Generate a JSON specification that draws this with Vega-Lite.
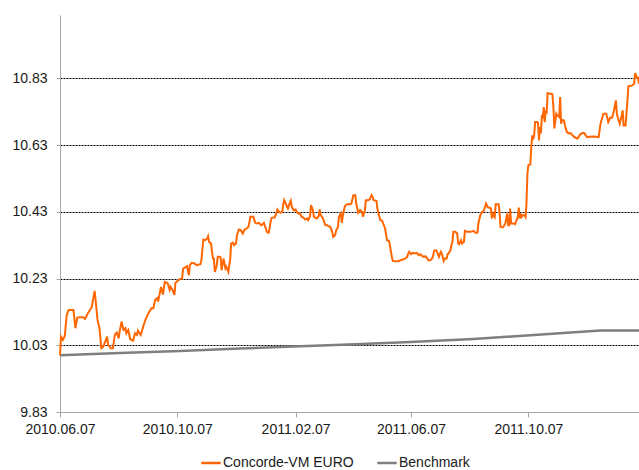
{
  "$schema": "https://vega.github.io/schema/vega-lite/v6.json",
  "width": 579,
  "height": 397,
  "autosize": {"type": "none"},
  "padding": {"left": 60, "top": 15, "right": 0, "bottom": 58},
  "config": {"view": {"stroke": null}, "font": "Liberation Sans"},
  "datasets": {
    "bench": [
      {"d": "2010-06-07", "v": 10.000},
      {"d": "2010-08-08", "v": 10.007},
      {"d": "2010-10-10", "v": 10.013},
      {"d": "2010-12-11", "v": 10.020},
      {"d": "2011-02-12", "v": 10.027},
      {"d": "2011-04-10", "v": 10.033},
      {"d": "2011-06-06", "v": 10.040},
      {"d": "2011-08-11", "v": 10.049},
      {"d": "2011-10-09", "v": 10.060},
      {"d": "2011-11-20", "v": 10.068},
      {"d": "2011-12-21", "v": 10.074},
      {"d": "2012-01-30", "v": 10.074}
    ],
    "fund": [
      {"d": "2010-06-07", "v": 10.000},
      {"d": "2010-06-08", "v": 10.056},
      {"d": "2010-06-10", "v": 10.046},
      {"d": "2010-06-12", "v": 10.058},
      {"d": "2010-06-14", "v": 10.121},
      {"d": "2010-06-16", "v": 10.136},
      {"d": "2010-06-21", "v": 10.136},
      {"d": "2010-06-23", "v": 10.081},
      {"d": "2010-06-25", "v": 10.113},
      {"d": "2010-06-28", "v": 10.114},
      {"d": "2010-07-01", "v": 10.114},
      {"d": "2010-07-03", "v": 10.109},
      {"d": "2010-07-06", "v": 10.126},
      {"d": "2010-07-10", "v": 10.144},
      {"d": "2010-07-13", "v": 10.193},
      {"d": "2010-07-14", "v": 10.166},
      {"d": "2010-07-16", "v": 10.106},
      {"d": "2010-07-18", "v": 10.082},
      {"d": "2010-07-20", "v": 10.021},
      {"d": "2010-07-22", "v": 10.026},
      {"d": "2010-07-26", "v": 10.056},
      {"d": "2010-07-27", "v": 10.031},
      {"d": "2010-07-30", "v": 10.021},
      {"d": "2010-08-01", "v": 10.021},
      {"d": "2010-08-03", "v": 10.061},
      {"d": "2010-08-05", "v": 10.068},
      {"d": "2010-08-07", "v": 10.051},
      {"d": "2010-08-08", "v": 10.071},
      {"d": "2010-08-10", "v": 10.101},
      {"d": "2010-08-12", "v": 10.076},
      {"d": "2010-08-14", "v": 10.081},
      {"d": "2010-08-15", "v": 10.066},
      {"d": "2010-08-17", "v": 10.076},
      {"d": "2010-08-19", "v": 10.048},
      {"d": "2010-08-22", "v": 10.044},
      {"d": "2010-08-24", "v": 10.066},
      {"d": "2010-08-26", "v": 10.061},
      {"d": "2010-08-27", "v": 10.074},
      {"d": "2010-08-30", "v": 10.061},
      {"d": "2010-09-02", "v": 10.091},
      {"d": "2010-09-04", "v": 10.108},
      {"d": "2010-09-07", "v": 10.126},
      {"d": "2010-09-10", "v": 10.141},
      {"d": "2010-09-12", "v": 10.141},
      {"d": "2010-09-14", "v": 10.166},
      {"d": "2010-09-16", "v": 10.171},
      {"d": "2010-09-17", "v": 10.161},
      {"d": "2010-09-20", "v": 10.205},
      {"d": "2010-09-22", "v": 10.182},
      {"d": "2010-09-24", "v": 10.220},
      {"d": "2010-09-27", "v": 10.216},
      {"d": "2010-09-29", "v": 10.196},
      {"d": "2010-09-30", "v": 10.205},
      {"d": "2010-10-02", "v": 10.196},
      {"d": "2010-10-04", "v": 10.181},
      {"d": "2010-10-05", "v": 10.216},
      {"d": "2010-10-06", "v": 10.220},
      {"d": "2010-10-08", "v": 10.225},
      {"d": "2010-10-10", "v": 10.228},
      {"d": "2010-10-12", "v": 10.231},
      {"d": "2010-10-13", "v": 10.260},
      {"d": "2010-10-15", "v": 10.263},
      {"d": "2010-10-17", "v": 10.267},
      {"d": "2010-10-19", "v": 10.240},
      {"d": "2010-10-20", "v": 10.270},
      {"d": "2010-10-22", "v": 10.277},
      {"d": "2010-10-25", "v": 10.275},
      {"d": "2010-10-27", "v": 10.270},
      {"d": "2010-10-31", "v": 10.273},
      {"d": "2010-11-01", "v": 10.285},
      {"d": "2010-11-03", "v": 10.347},
      {"d": "2010-11-05", "v": 10.345},
      {"d": "2010-11-07", "v": 10.350},
      {"d": "2010-11-08", "v": 10.357},
      {"d": "2010-11-09", "v": 10.340},
      {"d": "2010-11-11", "v": 10.335},
      {"d": "2010-11-13", "v": 10.290},
      {"d": "2010-11-14", "v": 10.290},
      {"d": "2010-11-15", "v": 10.250},
      {"d": "2010-11-17", "v": 10.270},
      {"d": "2010-11-18", "v": 10.295},
      {"d": "2010-11-20", "v": 10.295},
      {"d": "2010-11-21", "v": 10.293},
      {"d": "2010-11-22", "v": 10.255},
      {"d": "2010-11-24", "v": 10.290},
      {"d": "2010-11-26", "v": 10.260},
      {"d": "2010-11-27", "v": 10.265},
      {"d": "2010-11-29", "v": 10.250},
      {"d": "2010-12-01", "v": 10.290},
      {"d": "2010-12-02", "v": 10.335},
      {"d": "2010-12-04", "v": 10.337},
      {"d": "2010-12-05", "v": 10.330},
      {"d": "2010-12-07", "v": 10.335},
      {"d": "2010-12-08", "v": 10.360},
      {"d": "2010-12-10", "v": 10.377},
      {"d": "2010-12-12", "v": 10.375},
      {"d": "2010-12-14", "v": 10.365},
      {"d": "2010-12-16", "v": 10.377},
      {"d": "2010-12-18", "v": 10.380},
      {"d": "2010-12-20", "v": 10.385},
      {"d": "2010-12-22", "v": 10.415},
      {"d": "2010-12-25", "v": 10.415},
      {"d": "2010-12-27", "v": 10.397},
      {"d": "2010-12-29", "v": 10.395},
      {"d": "2010-12-31", "v": 10.397},
      {"d": "2011-01-02", "v": 10.390},
      {"d": "2011-01-04", "v": 10.393},
      {"d": "2011-01-05", "v": 10.397},
      {"d": "2011-01-07", "v": 10.380},
      {"d": "2011-01-08", "v": 10.370},
      {"d": "2011-01-10", "v": 10.367},
      {"d": "2011-01-12", "v": 10.400},
      {"d": "2011-01-13", "v": 10.412},
      {"d": "2011-01-16", "v": 10.413},
      {"d": "2011-01-18", "v": 10.425},
      {"d": "2011-01-19", "v": 10.437},
      {"d": "2011-01-20", "v": 10.433},
      {"d": "2011-01-22", "v": 10.427},
      {"d": "2011-01-24", "v": 10.430},
      {"d": "2011-01-25", "v": 10.450},
      {"d": "2011-01-26", "v": 10.465},
      {"d": "2011-01-28", "v": 10.453},
      {"d": "2011-01-29", "v": 10.445},
      {"d": "2011-01-30", "v": 10.440},
      {"d": "2011-01-31", "v": 10.450},
      {"d": "2011-02-02", "v": 10.463},
      {"d": "2011-02-03", "v": 10.445},
      {"d": "2011-02-05", "v": 10.435},
      {"d": "2011-02-07", "v": 10.437},
      {"d": "2011-02-08", "v": 10.430},
      {"d": "2011-02-10", "v": 10.425},
      {"d": "2011-02-12", "v": 10.423},
      {"d": "2011-02-13", "v": 10.415},
      {"d": "2011-02-15", "v": 10.413},
      {"d": "2011-02-17", "v": 10.407},
      {"d": "2011-02-19", "v": 10.410},
      {"d": "2011-02-20", "v": 10.405},
      {"d": "2011-02-22", "v": 10.417},
      {"d": "2011-02-23", "v": 10.450},
      {"d": "2011-02-25", "v": 10.435},
      {"d": "2011-02-26", "v": 10.415},
      {"d": "2011-02-27", "v": 10.413},
      {"d": "2011-03-01", "v": 10.410},
      {"d": "2011-03-03", "v": 10.417},
      {"d": "2011-03-04", "v": 10.437},
      {"d": "2011-03-05", "v": 10.420},
      {"d": "2011-03-07", "v": 10.413},
      {"d": "2011-03-09", "v": 10.397},
      {"d": "2011-03-10", "v": 10.390},
      {"d": "2011-03-12", "v": 10.390},
      {"d": "2011-03-13", "v": 10.387},
      {"d": "2011-03-15", "v": 10.385},
      {"d": "2011-03-17", "v": 10.370},
      {"d": "2011-03-18", "v": 10.355},
      {"d": "2011-03-20", "v": 10.360},
      {"d": "2011-03-21", "v": 10.373},
      {"d": "2011-03-23", "v": 10.385},
      {"d": "2011-03-24", "v": 10.415},
      {"d": "2011-03-26", "v": 10.425},
      {"d": "2011-03-27", "v": 10.397},
      {"d": "2011-03-28", "v": 10.417},
      {"d": "2011-03-30", "v": 10.445},
      {"d": "2011-03-31", "v": 10.450},
      {"d": "2011-04-02", "v": 10.453},
      {"d": "2011-04-05", "v": 10.453},
      {"d": "2011-04-06", "v": 10.455},
      {"d": "2011-04-08", "v": 10.480},
      {"d": "2011-04-10", "v": 10.480},
      {"d": "2011-04-11", "v": 10.455},
      {"d": "2011-04-13", "v": 10.427},
      {"d": "2011-04-14", "v": 10.430},
      {"d": "2011-04-15", "v": 10.435},
      {"d": "2011-04-17", "v": 10.430},
      {"d": "2011-04-18", "v": 10.415},
      {"d": "2011-04-20", "v": 10.435},
      {"d": "2011-04-21", "v": 10.465},
      {"d": "2011-04-23", "v": 10.465},
      {"d": "2011-04-25", "v": 10.467},
      {"d": "2011-04-27", "v": 10.480},
      {"d": "2011-04-28", "v": 10.475},
      {"d": "2011-04-29", "v": 10.465},
      {"d": "2011-05-02", "v": 10.463},
      {"d": "2011-05-03", "v": 10.440},
      {"d": "2011-05-04", "v": 10.427},
      {"d": "2011-05-06", "v": 10.405},
      {"d": "2011-05-08", "v": 10.403},
      {"d": "2011-05-09", "v": 10.395},
      {"d": "2011-05-11", "v": 10.380},
      {"d": "2011-05-13", "v": 10.345},
      {"d": "2011-05-15", "v": 10.343},
      {"d": "2011-05-16", "v": 10.330},
      {"d": "2011-05-18", "v": 10.295},
      {"d": "2011-05-19", "v": 10.283},
      {"d": "2011-05-22", "v": 10.282},
      {"d": "2011-05-25", "v": 10.282},
      {"d": "2011-05-27", "v": 10.285},
      {"d": "2011-05-29", "v": 10.287},
      {"d": "2011-05-30", "v": 10.287},
      {"d": "2011-06-01", "v": 10.290},
      {"d": "2011-06-03", "v": 10.295},
      {"d": "2011-06-04", "v": 10.305},
      {"d": "2011-06-05", "v": 10.310},
      {"d": "2011-06-07", "v": 10.303},
      {"d": "2011-06-09", "v": 10.307},
      {"d": "2011-06-11", "v": 10.305},
      {"d": "2011-06-13", "v": 10.307},
      {"d": "2011-06-15", "v": 10.300},
      {"d": "2011-06-17", "v": 10.303},
      {"d": "2011-06-18", "v": 10.299},
      {"d": "2011-06-20", "v": 10.295},
      {"d": "2011-06-22", "v": 10.297},
      {"d": "2011-06-24", "v": 10.290},
      {"d": "2011-06-25", "v": 10.285},
      {"d": "2011-06-27", "v": 10.285},
      {"d": "2011-06-29", "v": 10.290},
      {"d": "2011-06-30", "v": 10.300},
      {"d": "2011-07-01", "v": 10.313},
      {"d": "2011-07-03", "v": 10.315},
      {"d": "2011-07-04", "v": 10.310},
      {"d": "2011-07-06", "v": 10.295},
      {"d": "2011-07-07", "v": 10.303},
      {"d": "2011-07-08", "v": 10.310},
      {"d": "2011-07-09", "v": 10.305},
      {"d": "2011-07-11", "v": 10.283},
      {"d": "2011-07-12", "v": 10.290},
      {"d": "2011-07-14", "v": 10.290},
      {"d": "2011-07-15", "v": 10.303},
      {"d": "2011-07-16", "v": 10.305},
      {"d": "2011-07-18", "v": 10.315},
      {"d": "2011-07-19", "v": 10.330},
      {"d": "2011-07-20", "v": 10.340},
      {"d": "2011-07-21", "v": 10.370},
      {"d": "2011-07-23", "v": 10.370},
      {"d": "2011-07-25", "v": 10.365},
      {"d": "2011-07-26", "v": 10.335},
      {"d": "2011-07-27", "v": 10.333},
      {"d": "2011-07-29", "v": 10.345},
      {"d": "2011-07-30", "v": 10.335},
      {"d": "2011-08-01", "v": 10.340},
      {"d": "2011-08-02", "v": 10.373},
      {"d": "2011-08-04", "v": 10.370},
      {"d": "2011-08-08", "v": 10.370},
      {"d": "2011-08-11", "v": 10.373},
      {"d": "2011-08-13", "v": 10.367},
      {"d": "2011-08-15", "v": 10.367},
      {"d": "2011-08-16", "v": 10.395},
      {"d": "2011-08-18", "v": 10.420},
      {"d": "2011-08-20", "v": 10.430},
      {"d": "2011-08-21", "v": 10.430},
      {"d": "2011-08-23", "v": 10.445},
      {"d": "2011-08-24", "v": 10.455},
      {"d": "2011-08-26", "v": 10.443},
      {"d": "2011-08-27", "v": 10.443},
      {"d": "2011-08-29", "v": 10.440},
      {"d": "2011-08-30", "v": 10.410},
      {"d": "2011-08-31", "v": 10.425},
      {"d": "2011-09-02", "v": 10.415},
      {"d": "2011-09-03", "v": 10.453},
      {"d": "2011-09-04", "v": 10.453},
      {"d": "2011-09-06", "v": 10.453},
      {"d": "2011-09-07", "v": 10.430},
      {"d": "2011-09-08", "v": 10.385},
      {"d": "2011-09-10", "v": 10.383},
      {"d": "2011-09-11", "v": 10.385},
      {"d": "2011-09-13", "v": 10.395},
      {"d": "2011-09-15", "v": 10.425},
      {"d": "2011-09-16", "v": 10.390},
      {"d": "2011-09-17", "v": 10.390},
      {"d": "2011-09-18", "v": 10.440},
      {"d": "2011-09-19", "v": 10.395},
      {"d": "2011-09-21", "v": 10.395},
      {"d": "2011-09-22", "v": 10.395},
      {"d": "2011-09-23", "v": 10.393},
      {"d": "2011-09-24", "v": 10.400},
      {"d": "2011-09-26", "v": 10.415},
      {"d": "2011-09-27", "v": 10.443},
      {"d": "2011-09-28", "v": 10.410},
      {"d": "2011-09-29", "v": 10.425},
      {"d": "2011-09-30", "v": 10.415},
      {"d": "2011-10-01", "v": 10.420},
      {"d": "2011-10-03", "v": 10.420},
      {"d": "2011-10-04", "v": 10.415},
      {"d": "2011-10-05", "v": 10.455},
      {"d": "2011-10-06", "v": 10.545},
      {"d": "2011-10-07", "v": 10.570},
      {"d": "2011-10-09", "v": 10.572},
      {"d": "2011-10-10", "v": 10.624},
      {"d": "2011-10-11", "v": 10.659},
      {"d": "2011-10-12", "v": 10.647},
      {"d": "2011-10-13", "v": 10.659},
      {"d": "2011-10-14", "v": 10.699},
      {"d": "2011-10-16", "v": 10.699},
      {"d": "2011-10-17", "v": 10.697},
      {"d": "2011-10-18", "v": 10.644},
      {"d": "2011-10-19", "v": 10.684},
      {"d": "2011-10-20", "v": 10.665},
      {"d": "2011-10-21", "v": 10.716},
      {"d": "2011-10-22", "v": 10.714},
      {"d": "2011-10-23", "v": 10.744},
      {"d": "2011-10-24", "v": 10.699},
      {"d": "2011-10-25", "v": 10.734},
      {"d": "2011-10-26", "v": 10.724},
      {"d": "2011-10-27", "v": 10.786},
      {"d": "2011-10-29", "v": 10.784},
      {"d": "2011-10-31", "v": 10.784},
      {"d": "2011-11-01", "v": 10.782},
      {"d": "2011-11-02", "v": 10.744},
      {"d": "2011-11-03", "v": 10.680},
      {"d": "2011-11-05", "v": 10.724},
      {"d": "2011-11-06", "v": 10.719},
      {"d": "2011-11-08", "v": 10.714},
      {"d": "2011-11-09", "v": 10.774},
      {"d": "2011-11-10", "v": 10.694},
      {"d": "2011-11-11", "v": 10.706},
      {"d": "2011-11-13", "v": 10.704},
      {"d": "2011-11-14", "v": 10.689},
      {"d": "2011-11-16", "v": 10.669},
      {"d": "2011-11-18", "v": 10.665},
      {"d": "2011-11-20", "v": 10.666},
      {"d": "2011-11-21", "v": 10.662},
      {"d": "2011-11-23", "v": 10.656},
      {"d": "2011-11-25", "v": 10.652},
      {"d": "2011-11-27", "v": 10.650},
      {"d": "2011-11-28", "v": 10.654},
      {"d": "2011-11-30", "v": 10.662},
      {"d": "2011-12-02", "v": 10.666},
      {"d": "2011-12-04", "v": 10.666},
      {"d": "2011-12-07", "v": 10.654},
      {"d": "2011-12-13", "v": 10.656},
      {"d": "2011-12-19", "v": 10.654},
      {"d": "2011-12-21", "v": 10.694},
      {"d": "2011-12-24", "v": 10.724},
      {"d": "2011-12-27", "v": 10.724},
      {"d": "2011-12-29", "v": 10.699},
      {"d": "2011-12-31", "v": 10.712},
      {"d": "2012-01-02", "v": 10.712},
      {"d": "2012-01-04", "v": 10.734},
      {"d": "2012-01-06", "v": 10.764},
      {"d": "2012-01-07", "v": 10.724},
      {"d": "2012-01-08", "v": 10.712},
      {"d": "2012-01-10", "v": 10.694},
      {"d": "2012-01-12", "v": 10.719},
      {"d": "2012-01-13", "v": 10.734},
      {"d": "2012-01-14", "v": 10.689},
      {"d": "2012-01-16", "v": 10.689},
      {"d": "2012-01-18", "v": 10.764},
      {"d": "2012-01-19", "v": 10.806},
      {"d": "2012-01-23", "v": 10.809},
      {"d": "2012-01-25", "v": 10.814},
      {"d": "2012-01-26", "v": 10.846},
      {"d": "2012-01-28", "v": 10.832},
      {"d": "2012-01-29", "v": 10.832},
      {"d": "2012-01-30", "v": 10.814}
    ]
  },
  "encoding": {
    "x": {
      "field": "d",
      "type": "temporal",
      "scale": {
        "type": "utc",
        "domain": [
          {"year": 2010, "month": 6, "date": 7, "utc": true},
          {"year": 2012, "month": 1, "date": 30, "utc": true}
        ]
      },
      "axis": {
        "title": null,
        "grid": false,
        "values": [
          {"year": 2010, "month": 6, "date": 7, "utc": true},
          {"year": 2010, "month": 10, "date": 7, "utc": true},
          {"year": 2011, "month": 2, "date": 7, "utc": true},
          {"year": 2011, "month": 6, "date": 7, "utc": true},
          {"year": 2011, "month": 10, "date": 7, "utc": true}
        ],
        "labelExpr": "utcFormat(datum.value, '%Y.%m.%d')",
        "labelFlush": false,
        "labelOverlap": false,
        "domainColor": "#a6a6a6",
        "tickColor": "#a6a6a6",
        "tickSize": 5,
        "labelPadding": 5,
        "labelFontSize": 14,
        "labelColor": "#1a1a1a",
        "labelFont": "Liberation Sans"
      }
    },
    "y": {
      "field": "v",
      "type": "quantitative",
      "scale": {"domain": [9.83, 11.02], "nice": false, "zero": false},
      "axis": {
        "title": null,
        "values": [9.83, 10.03, 10.23, 10.43, 10.63, 10.83],
        "format": ".2f",
        "grid": true,
        "gridColor": "#000000",
        "gridDash": [2, 1],
        "gridWidth": 1,
        "gridOpacity": {"condition": {"test": "datum.value < 9.9", "value": 0}, "value": 1},
        "domainColor": "#a6a6a6",
        "tickColor": "#a6a6a6",
        "tickSize": 4,
        "labelPadding": 9,
        "labelFontSize": 14,
        "labelColor": "#1a1a1a",
        "labelFont": "Liberation Sans"
      }
    },
    "color": {
      "scale": {"domain": ["Concorde-VM EURO", "Benchmark"], "range": ["#ff6600", "#7f7f7f"]},
      "legend": {
        "title": null,
        "orient": "none",
        "legendX": 140,
        "legendY": 437,
        "direction": "horizontal",
        "symbolType": "stroke",
        "symbolSize": 380,
        "symbolStrokeWidth": 2.5,
        "labelFontSize": 14,
        "labelColor": "#1a1a1a",
        "labelFont": "Liberation Sans",
        "labelOffset": 1,
        "columnPadding": 18
      }
    }
  },
  "layer": [
    {
      "data": {"name": "bench"},
      "mark": {"type": "line", "strokeWidth": 2.5},
      "encoding": {"color": {"datum": "Benchmark"}}
    },
    {
      "data": {"name": "fund"},
      "mark": {"type": "line", "strokeWidth": 2},
      "encoding": {"color": {"datum": "Concorde-VM EURO"}}
    }
  ]
}
